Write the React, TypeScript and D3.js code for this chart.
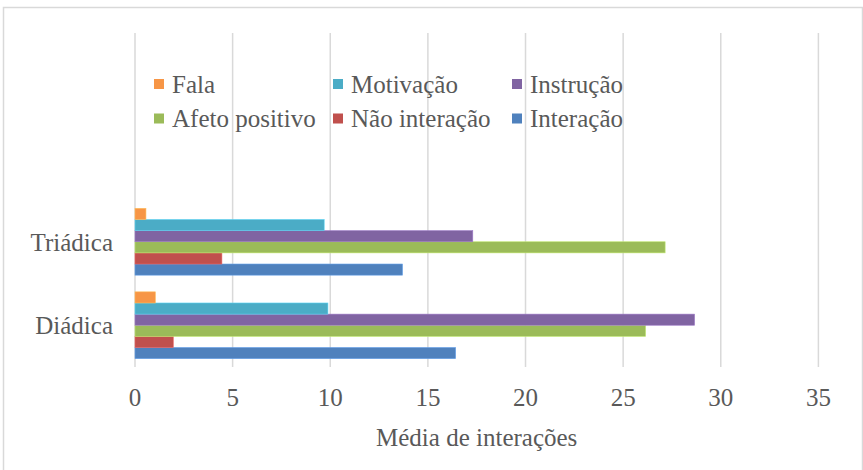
import React, { useEffect, useRef } from 'react'
import * as d3 from 'd3'

// categories (bottom to top); two empty slots above, as in the original sheet
const categories = ['Diádica', 'Triádica', ' ', '  ']

// series in Excel order (first series drawn at the bottom of each group)
const seriesNames = ['Interação', 'Não interação', 'Afeto positivo', 'Instrução', 'Motivação', 'Fala']
const seriesColors = ['#4F81BD', '#C0504D', '#9BBB59', '#8064A2', '#4BACC6', '#F79646']

const diadica = [16.42, 1.96, 26.15, 28.66, 9.88, 1.04]
const triadica = [13.7, 4.45, 27.15, 17.3, 9.69, 0.56]

const xTicks = [0, 5, 10, 15, 20, 25, 30, 35]

// legend rows as in the picture
const legendRows = [
  ['Fala', 'Motivação', 'Instrução'],
  ['Afeto positivo', 'Não interação', 'Interação'],
]

const W = 863
const H = 470
const FONT = 'Liberation Serif, Times New Roman, serif'
const FS = 25
const TEXT = '#595959'
const GRID = '#d9d9d9'

export default function App() {
  const svgRef = useRef<SVGSVGElement>(null)

  useEffect(() => {
    document.body.style.margin = '0'
    if (!svgRef.current) return
    const svg = d3.select(svgRef.current)
    svg.selectAll('*').remove()

    const plot = { left: 135, right: 818.4, top: 33, bottom: 367 }

    const x = d3.scaleLinear().domain([0, 35]).range([plot.left, plot.right])
    const y0 = d3
      .scaleBand<string>()
      .domain(categories)
      .range([plot.bottom, plot.top])
      .paddingInner(0.2)
      .paddingOuter(0.1)
    // top to bottom inside a group: last series first
    const y1 = d3
      .scaleBand<string>()
      .domain([...seriesNames].reverse())
      .range([0, y0.bandwidth()])

    // outer border
    svg.append('rect')
      .attr('x', 3.5).attr('y', 7.5)
      .attr('width', W - 4).attr('height', H)
      .attr('fill', 'white')
      .attr('stroke', GRID).attr('stroke-width', 1.5)

    // grid
    svg.append('g')
      .selectAll('line')
      .data(xTicks)
      .join('line')
      .attr('x1', d => x(d)).attr('x2', d => x(d))
      .attr('y1', plot.top).attr('y2', plot.bottom)
      .attr('stroke', GRID).attr('stroke-width', 1.5)

    // bars
    const rows = [
      { cat: 'Diádica', vals: diadica },
      { cat: 'Triádica', vals: triadica },
    ]
    rows.forEach(r => {
      const g = svg.append('g').attr('transform', `translate(0,${y0(r.cat)})`)
      g.selectAll('rect')
        .data(r.vals.map((v, i) => ({ v, name: seriesNames[i], color: seriesColors[i] })))
        .join('rect')
        .attr('x', x(0))
        .attr('y', d => y1(d.name)!)
        .attr('width', d => x(d.v) - x(0))
        .attr('height', y1.bandwidth())
        .attr('fill', d => d.color)
        .attr('stroke', d => d3.color(d.color)!.brighter(0.6).formatHex())
        .attr('stroke-width', 0.6)
    })

    const txt = svg.append('g')
      .attr('font-family', FONT)
      .attr('font-size', FS)
      .attr('fill', TEXT)

    // category labels
    txt.append('g')
      .selectAll('text')
      .data(categories.filter(c => c.trim() !== ''))
      .join('text')
      .attr('x', 113)
      .attr('y', d => y0(d)! + y0.bandwidth() / 2)
      .attr('dy', '0.35em')
      .attr('text-anchor', 'end')
      .text(d => d)

    // x tick labels
    txt.append('g')
      .selectAll('text')
      .data(xTicks)
      .join('text')
      .attr('x', d => x(d))
      .attr('y', 397)
      .attr('dy', '0.35em')
      .attr('text-anchor', 'middle')
      .text(d => d)

    // axis title
    txt.append('text')
      .attr('x', (plot.left + plot.right) / 2)
      .attr('y', 437)
      .attr('dy', '0.35em')
      .attr('text-anchor', 'middle')
      .text('Média de interações')

    // legend
    const colX = [154, 333, 512]
    const rowY = [84, 118.5]
    legendRows.forEach((row, ri) => {
      row.forEach((name, ci) => {
        const color = seriesColors[seriesNames.indexOf(name)]
        svg.append('rect')
          .attr('x', colX[ci]).attr('y', rowY[ri] - 5)
          .attr('width', 10).attr('height', 10)
          .attr('fill', color)
        txt.append('text')
          .attr('x', colX[ci] + 18)
          .attr('y', rowY[ri])
          .attr('dy', '0.35em')
          .text(name)
      })
    })
  }, [])

  return (
    <svg
      ref={svgRef}
      width={W}
      height={H}
      style={{ position: 'absolute', left: 0, top: 0, background: 'white' }}
    />
  )
}
